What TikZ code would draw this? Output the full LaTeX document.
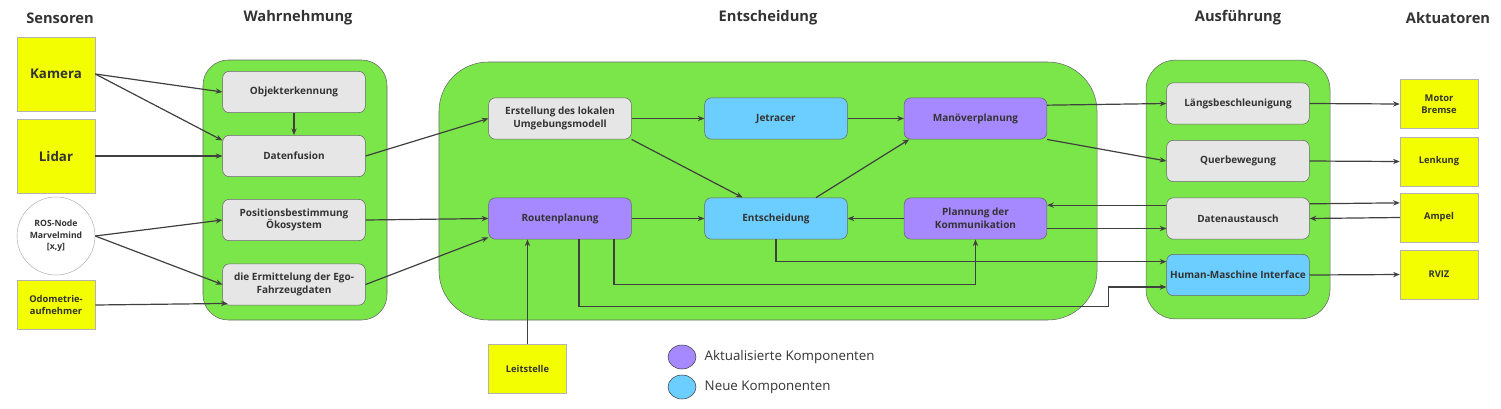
\documentclass[tikz,border=0pt]{standalone}
\usepackage{fontspec}
\setmainfont{Open Sans}
\usetikzlibrary{positioning,arrows.meta,shapes.geometric}
\definecolor{gelb}{RGB}{243,255,0}
\definecolor{gruen}{RGB}{123,230,74}
\definecolor{grau}{RGB}{230,230,230}
\definecolor{blau}{RGB}{107,206,255}
\definecolor{lila}{RGB}{166,136,255}
\definecolor{linie}{RGB}{64,64,64}
\definecolor{schrift}{RGB}{51,51,51}
\begin{document}
\begin{tikzpicture}[
        x=0.75pt, y=-0.75pt,
        >={Stealth[length=5pt,width=4pt]},
        title/.style={font=\fontsize{11}{13}\selectfont\bfseries, text=schrift},
        group/.style={draw=linie!80, fill=gruen, minimum width=138pt, minimum height=195pt},
        base/.style={draw=linie!80, rounded corners=5pt, align=center, minimum width=107pt, minimum height=31pt, inner sep=2pt, text=schrift, font=\fontsize{7.5}{9.5}\selectfont\bfseries},
        comp/.style={base, fill=grau},
        updated/.style={base, fill=lila},
        newcomp/.style={base, fill=blau},
        sensor/.style={draw=linie!40, fill=gelb, align=center, minimum width=58.5pt, minimum height=37pt, text=schrift, font=\fontsize{7}{9}\selectfont\bfseries},
        flow/.style={->, draw=linie, line width=0.9pt},
        leg/.style={font=\fontsize{10}{12}\selectfont, text=schrift, anchor=west}
    ]
        \useasboundingbox (0,0) rectangle (1501,408);

        % titles
        \node[title] (tsen) at (60,18) {Sensoren};
        \node[title] (twah) at (298,18) {Wahrnehmung};
        \node[title] (tent) at (768,18) {Entscheidung};
        \node[title] (taus) at (1238,18) {Ausführung};
        \node[title] (takt) at (1448,18) {Aktuatoren};

        % groups
        \node[group, rounded corners=19pt] (gwah) at (295,190) {};
        \node[group, rounded corners=37pt, minimum width=493.5pt, minimum height=193.5pt] (gent) at (768,191) {};
        \node[group, rounded corners=22pt, minimum height=194pt] (gaus) at (1238,189.5) {};

        % sensors
        \node[sensor, minimum height=55.5pt, font=\fontsize{10}{12}\selectfont\bfseries] (kam) at (56,74) {Kamera};
        \node[sensor, minimum height=55.5pt, font=\fontsize{10}{12}\selectfont\bfseries] (lid) at (56,156) {Lidar};
        \node[sensor, circle, fill=white, minimum size=58.5pt, inner sep=0pt, font=\fontsize{6.5}{8.5}\selectfont\bfseries] (ros) at (56,236) {ROS-Node\\Marvelmind\\{[x,y]}};
        \node[sensor] (odo) at (56,305) {Odometrie-\\aufnehmer};

        % Wahrnehmung
        \node[comp] (obj) at (294,92) {Objekterkennung};
        \node[comp] (fus) at (294,156) {Datenfusion};
        \node[comp] (pos) at (294,220) {Positionsbestimmung\\Ökosystem};
        \node[comp] (erm) at (294,284.5) {die Ermittelung der Ego-\\Fahrzeugdaten};

        % Entscheidung
        \node[comp] (ums) at (560,118.5) {Erstellung des lokalen\\Umgebungsmodell};
        \node[newcomp] (jet) at (776,118.5) {Jetracer};
        \node[updated] (man) at (975.5,118.5) {Manöverplanung};
        \node[updated] (rout) at (560,218.5) {Routenplanung};
        \node[newcomp] (ent) at (776,218.5) {Entscheidung};
        \node[updated] (plan) at (975.5,218.5) {Plannung der\\Kommunikation};

        % Ausfuehrung
        \node[comp] (laeng) at (1238,103.5) {Längsbeschleunigung};
        \node[comp] (quer) at (1238,161) {Querbewegung};
        \node[comp] (aus) at (1238,218.5) {Datenaustausch};
        \node[newcomp] (hmi) at (1238,275) {Human-Maschine Interface};

        % actuators
        \node[sensor] (mot) at (1439,104) {Motor\\Bremse};
        \node[sensor] (lenk) at (1439,161.5) {Lenkung};
        \node[sensor] (amp) at (1439,217.5) {Ampel};
        \node[sensor] (rviz) at (1439,274.5) {RVIZ};
        \node[sensor] (lei) at (527.5,369) {Leitstelle};

        % legend
        \node[ellipse, draw=linie, fill=lila, minimum width=21pt, minimum height=18pt, inner sep=0pt] (l1) at (682,357) {};
        \node[leg] (l1t) at (700,357) {Aktualisierte Komponenten};
        \node[ellipse, draw=linie, fill=blau, minimum width=21pt, minimum height=18pt, inner sep=0pt] (l2) at (682,387) {};
        \node[leg] (l2t) at (700,387) {Neue Komponenten};

        % sensors -> Wahrnehmung
        \draw[flow] (kam.east) -- (obj.west);
        \draw[flow] (kam.east) -- ([yshift=-4pt]fus.north west);
        \draw[flow] (lid.east) -- (fus.west);
        \draw[flow] (obj.south) -- (fus.north);
        \draw[flow] (ros.east) -- (pos.west);
        \draw[flow] (ros.east) -- (erm.west);
        \draw[flow] (odo.east) -- ([xshift=4pt,yshift=1.5pt]erm.south west);

        % Wahrnehmung -> Entscheidung
        \draw[flow] (fus.east) -- (ums.west);
        \draw[flow] (pos.east) -- (rout.west);
        \draw[flow] (erm.east) -- ([yshift=1.5pt]rout.south west);
        \draw[flow] (lei.north) -- (lei.north |- rout.south);

        % inside Entscheidung
        \draw[flow] (ums.east) -- (jet.west);
        \draw[flow] (ums.south east) -- ([xshift=-25pt]ent.north);
        \draw[flow] (jet.east) -- (man.west);
        \draw[flow] ([xshift=30pt]ent.north) -- ([xshift=4pt]man.south west);
        \draw[flow] (rout.east) -- (ent.west);
        \draw[flow] (plan.west) -- (ent.east);
        \draw[flow] ([xshift=40.5pt]rout.south) -- ++(0,45) -| (plan.south);

        % Entscheidung -> Ausfuehrung
        \draw[flow] ([yshift=10pt]man.east) -- (laeng.west);
        \draw[flow] (man.south east) -- (quer.west);
        \draw[flow] ([yshift=10pt]aus.west) -- ([yshift=10pt]plan.east);
        \draw[flow] ([yshift=-7.5pt]plan.east) -- ([yshift=-7.5pt]aus.west);
        \draw[flow] (ent.south) |- ([yshift=10pt]hmi.west);
        \draw[flow] ([xshift=14.25pt]rout.south) -- ++(0,67) -| ([xshift=-43.5pt,yshift=-9pt]hmi.west) -- ([yshift=-9pt]hmi.west);

        % Ausfuehrung -> actuators
        \draw[flow] (laeng.east) -- (mot.west);
        \draw[flow] (quer.east) -- (lenk.west);
        \draw[flow] ([yshift=11pt]aus.east) -- ([yshift=11pt]amp.west);
        \draw[flow] (amp.west) -- (aus.east);
        \draw[flow] (hmi.east) -- (rviz.west);
    \end{tikzpicture}
\end{document}
